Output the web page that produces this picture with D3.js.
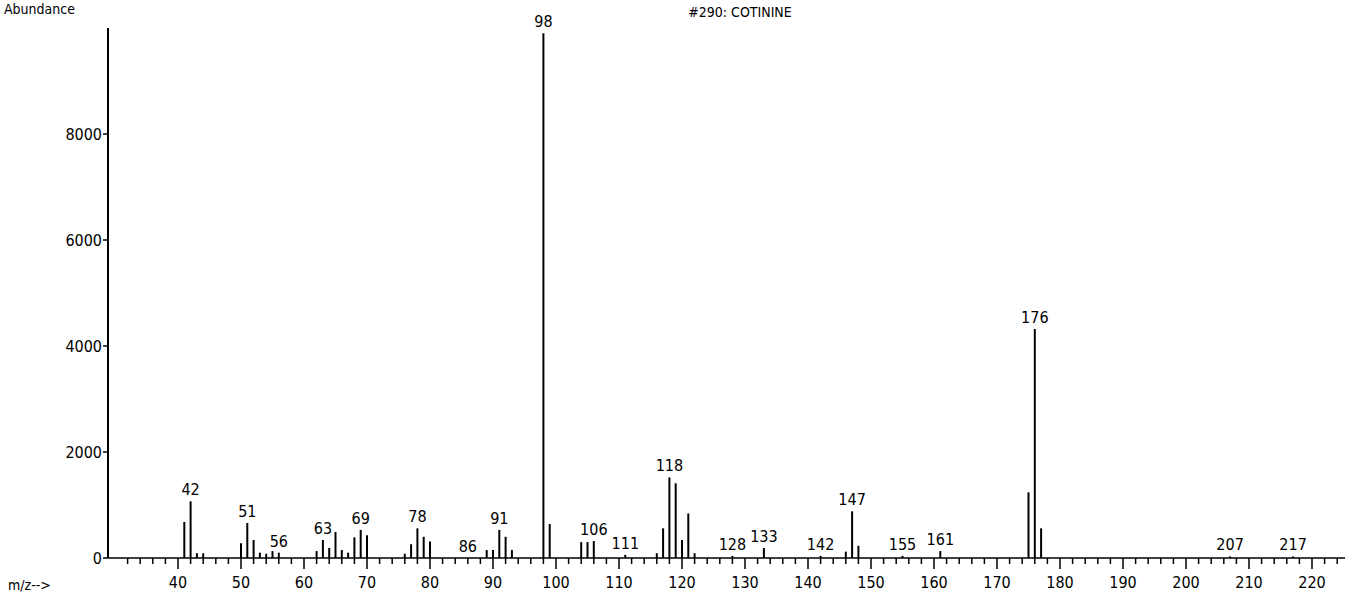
<!DOCTYPE html>
<html>
<head>
<meta charset="utf-8">
<script src="https://cdn.jsdelivr.net/npm/d3@7"></script>
<style>
body { margin: 0; background: #fff; }
text { font-family: "DejaVu Sans Condensed", "DejaVu Sans", sans-serif; fill: #000; }
</style>
</head>
<body>
<div id="chart"></div>
<script>
// m/z values and abundances
var mz = [41, 42, 43, 44, 50, 51, 52, 53, 54, 55, 56, 62, 63, 64, 65, 66, 67, 68, 69, 70,
  76, 77, 78, 79, 80, 89, 90, 91, 92, 93, 98, 99, 104, 105, 106, 111, 116, 117, 118, 119,
  120, 121, 122, 128, 133, 142, 146, 147, 148, 155, 161, 175, 176, 177, 207, 217];
var abundance = [680, 1070, 90, 90, 280, 660, 340, 100, 80, 130, 100, 130, 340, 190, 490, 150, 100, 390, 530, 430,
  80, 260, 560, 400, 310, 150, 150, 530, 400, 150, 9900, 640, 300, 300, 320, 60, 90, 560, 1520, 1410,
  340, 840, 90, 40, 190, 40, 120, 880, 230, 40, 130, 1240, 4320, 560, 30, 30];
var labelled = [42, 51, 56, 63, 69, 78, 86, 91, 98, 106, 111, 118, 128, 133, 142, 147, 155, 161, 176, 207, 217];
var yTicks = [0, 2000, 4000, 6000, 8000];
var xTicks = [40, 50, 60, 70, 80, 90, 100, 110, 120, 130, 140, 150, 160, 170, 180, 190, 200, 210, 220];

var svgWidth = 1352, svgHeight = 600;
var svg = d3.select("#chart").append("svg")
  .attr("width", svgWidth).attr("height", svgHeight);

var x = d3.scaleLinear().domain([29, 225]).range([108.7, 1343.5]);
var y = d3.scaleLinear().domain([0, 10000]).range([558, 28]);

// baseline + minor ticks
svg.append("line").attr("x1", 108).attr("x2", 1345).attr("y1", 558).attr("y2", 558)
  .attr("stroke", "#000").attr("stroke-width", 1.5);
var minor = d3.range(30, 226, 2).filter(function(v) { return v % 10 !== 0; });
svg.selectAll(".minor").data(minor).enter().append("line")
  .attr("x1", d => x(d)).attr("x2", d => x(d)).attr("y1", 558).attr("y2", 564)
  .attr("stroke", "#000").attr("stroke-width", 1.5);
svg.selectAll(".major").data(xTicks).enter().append("line")
  .attr("x1", d => x(d)).attr("x2", d => x(d)).attr("y1", 558).attr("y2", 569)
  .attr("stroke", "#000").attr("stroke-width", 1.5);
svg.selectAll(".xlab").data(xTicks).enter().append("text")
  .attr("x", d => x(d)).attr("y", 588).attr("text-anchor", "middle")
  .attr("font-size", 16).text(d => d);

// y axis
svg.append("line").attr("x1", 108).attr("x2", 108).attr("y1", 28).attr("y2", 558)
  .attr("stroke", "#000").attr("stroke-width", 2);
svg.selectAll(".ytick").data(yTicks).enter().append("line")
  .attr("x1", 103).attr("x2", 108).attr("y1", d => y(d)).attr("y2", d => y(d))
  .attr("stroke", "#000").attr("stroke-width", 1.5);
svg.selectAll(".ylab").data(yTicks).enter().append("text")
  .attr("x", 102).attr("y", d => y(d) + 6).attr("text-anchor", "end")
  .attr("font-size", 16).text(d => d);

// peaks
svg.selectAll(".peak").data(mz).enter().append("line")
  .attr("x1", d => x(d)).attr("x2", d => x(d))
  .attr("y1", y(0)).attr("y2", (d, i) => y(abundance[i]))
  .attr("stroke", "#000").attr("stroke-width", 2);

// peak labels
svg.selectAll(".plab").data(labelled).enter().append("text")
  .attr("x", d => x(d)).attr("y", function(d) {
    var i = mz.indexOf(d);
    var a = i >= 0 ? abundance[i] : 0;
    return y(a) - 6;
  })
  .attr("text-anchor", "middle").attr("font-size", 16).text(d => d);

svg.append("text").attr("x", 4).attr("y", 14).attr("font-size", 14)
  .attr("font-family", "Liberation Sans, Arial, sans-serif").text("Abundance");
svg.append("text").attr("x", 740).attr("y", 17).attr("font-size", 14).attr("text-anchor", "middle")
  .attr("font-family", "Liberation Sans, Arial, sans-serif").text("#290: COTININE");
svg.append("text").attr("x", 8).attr("y", 590).attr("font-size", 14)
  .attr("font-family", "Liberation Sans, Arial, sans-serif").text("m/z-->");
</script>
</body>
</html>
